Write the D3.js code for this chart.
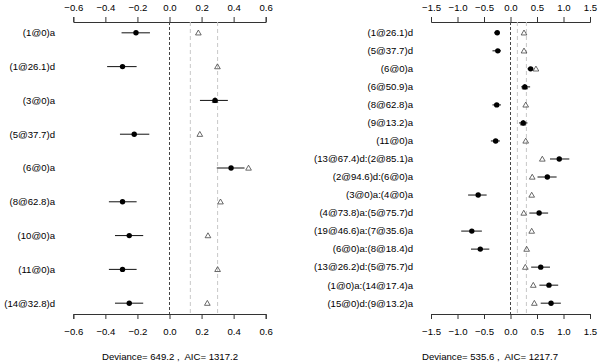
<!DOCTYPE html>
<html>
<head>
<meta charset="utf-8">
<script src="https://cdn.jsdelivr.net/npm/d3@7"></script>
<style>
  body { margin: 0; background: #fff; }
  text { font-family: "Liberation Sans", Arial, sans-serif; font-size: 9.6px; fill: #000; }
</style>
</head>
<body>
<svg id="chart" width="600" height="364"></svg>
<script>
// left panel
const leftLabels = ['(1@0)a', '(1@26.1)d', '(3@0)a', '(5@37.7)d', '(6@0)a', '(8@62.8)a', '(10@0)a', '(11@0)a', '(14@32.8)d'];
const leftEst = [-0.209, -0.293, 0.284, -0.220, 0.384, -0.293, -0.251, -0.293, -0.251];
const leftLo = [-0.299, -0.389, 0.190, -0.309, 0.295, -0.378, -0.340, -0.378, -0.340];
const leftHi = [-0.122, -0.205, 0.364, -0.126, 0.468, -0.205, -0.164, -0.205, -0.164];
const leftRef = [0.180, 0.299, 0.284, 0.189, 0.493, 0.318, 0.240, 0.300, 0.236];
const leftTicks = [-0.6, -0.4, -0.2, 0.0, 0.2, 0.4, 0.6];
const leftNote = 'Deviance= 649.2 ,\u00a0 AIC= 1317.2';

// right panel
const rightLabels = ['(1@26.1)d', '(5@37.7)d', '(6@0)a', '(6@50.9)a', '(8@62.8)a', '(9@13.2)a', '(11@0)a',
  '(13@67.4)d:(2@85.1)a', '(2@94.6)d:(6@0)a', '(3@0)a:(4@0)a', '(4@73.8)a:(5@75.7)d', '(19@46.6)a:(7@35.6)a',
  '(6@0)a:(8@18.4)d', '(13@26.2)d:(5@75.7)d', '(1@0)a:(14@17.4)a', '(15@0)d:(9@13.2)a'];
const rightEst = [-0.25, -0.24, 0.38, 0.27, -0.26, 0.24, -0.28, 0.92, 0.695, -0.61, 0.54, -0.73, -0.57, 0.57, 0.726, 0.765];
const rightLo = [-0.31, -0.34, 0.32, 0.20, -0.34, 0.16, -0.37, 0.745, 0.51, -0.80, 0.355, -0.93, -0.745, 0.39, 0.545, 0.57];
const rightHi = [-0.20, -0.18, 0.43, 0.37, -0.18, 0.32, -0.20, 1.11, 0.87, -0.45, 0.71, -0.54, -0.40, 0.745, 0.90, 0.95];
const rightRef = [0.255, 0.255, 0.48, 0.27, 0.287, 0.24, 0.287, 0.60, 0.41, 0.40, 0.25, 0.40, 0.305, 0.28, 0.43, 0.45];
const rightTicks = [-1.5, -1.0, -0.5, 0.0, 0.5, 1.0, 1.5];
const rightNote = 'Deviance= 535.6 ,\u00a0 AIC= 1217.7';

const guides = [0.13, 0.30];

const svg = d3.select('#chart');
const plotTop = 22, plotBottom = 314;

function drawPanel(cfg) {
  const n = cfg.labels.length;
  const x = d3.scaleLinear().domain([cfg.ticks[0], cfg.ticks[cfg.ticks.length - 1]]).range(cfg.xRange);
  const y = d3.scaleLinear().domain([-0.04 * (n - 1), 1.04 * (n - 1)]).range([plotTop, plotBottom]);
  const g = svg.append('g');

  const xTop = d3.axisTop(x).tickValues(cfg.ticks).tickFormat(d3.format('.1f')).tickSize(5).tickPadding(6);
  const xBot = d3.axisBottom(x).tickValues(cfg.ticks).tickFormat(d3.format('.1f')).tickSize(5).tickPadding(9);

  g.append('g').attr('transform', `translate(0,${plotTop})`).call(xTop);
  g.append('g').attr('transform', `translate(0,${plotBottom})`).call(xBot);
  g.selectAll('.domain, .tick line').attr('stroke', '#333');
  g.selectAll('.tick text').style('font-size', '9.6px').style('font-family', '"Liberation Sans", Arial, sans-serif').attr('fill', '#000');

  // reference lines
  g.selectAll('line.guide').data(guides).enter().append('line')
    .attr('class', 'guide')
    .attr('x1', d => x(d)).attr('x2', d => x(d))
    .attr('y1', plotTop).attr('y2', plotBottom)
    .attr('stroke', '#c8c8c8').attr('stroke-dasharray', '4,3');
  g.append('line')
    .attr('x1', x(0)).attr('x2', x(0))
    .attr('y1', plotTop).attr('y2', plotBottom)
    .attr('stroke', '#444').attr('stroke-dasharray', '3,2');

  // row labels
  g.selectAll('text.row').data(cfg.labels).enter().append('text')
    .attr('class', 'row')
    .attr('x', cfg.labelX)
    .attr('y', (d, i) => y(i))
    .attr('dy', '0.35em')
    .attr('text-anchor', 'end')
    .text(d => d);

  // reference triangles
  g.selectAll('path.tri').data(cfg.ref).enter().append('path')
    .attr('class', 'tri')
    .attr('d', d3.symbol().type(d3.symbolTriangle).size(14))
    .attr('transform', (d, i) => `translate(${x(d)},${y(i) + 0.5})`)
    .attr('fill', 'none').attr('stroke', '#444').attr('stroke-width', 0.8);

  // error bars
  g.selectAll('line.err').data(cfg.est).enter().append('line')
    .attr('class', 'err')
    .attr('x1', (d, i) => x(cfg.lo[i]))
    .attr('x2', (d, i) => x(cfg.hi[i]))
    .attr('y1', (d, i) => y(i)).attr('y2', (d, i) => y(i))
    .attr('stroke', '#111').attr('stroke-width', 1);

  g.selectAll('circle').data(cfg.est).enter().append('circle')
    .attr('cx', d => x(d))
    .attr('cy', (d, i) => y(i))
    .attr('r', 2.7)
    .attr('fill', '#000');

  g.append('text')
    .attr('x', cfg.noteX).attr('y', 360)
    .attr('text-anchor', 'middle')
    .text(cfg.note);
}

drawPanel({ labels: leftLabels, est: leftEst, lo: leftLo, hi: leftHi, ref: leftRef, ticks: leftTicks,
  note: leftNote, xRange: [73.3, 265.7], labelX: 55, noteX: 170 });
drawPanel({ labels: rightLabels, est: rightEst, lo: rightLo, hi: rightHi, ref: rightRef, ticks: rightTicks,
  note: rightNote, xRange: [431, 590], labelX: 413, noteX: 490 });
</script>
</body>
</html>
